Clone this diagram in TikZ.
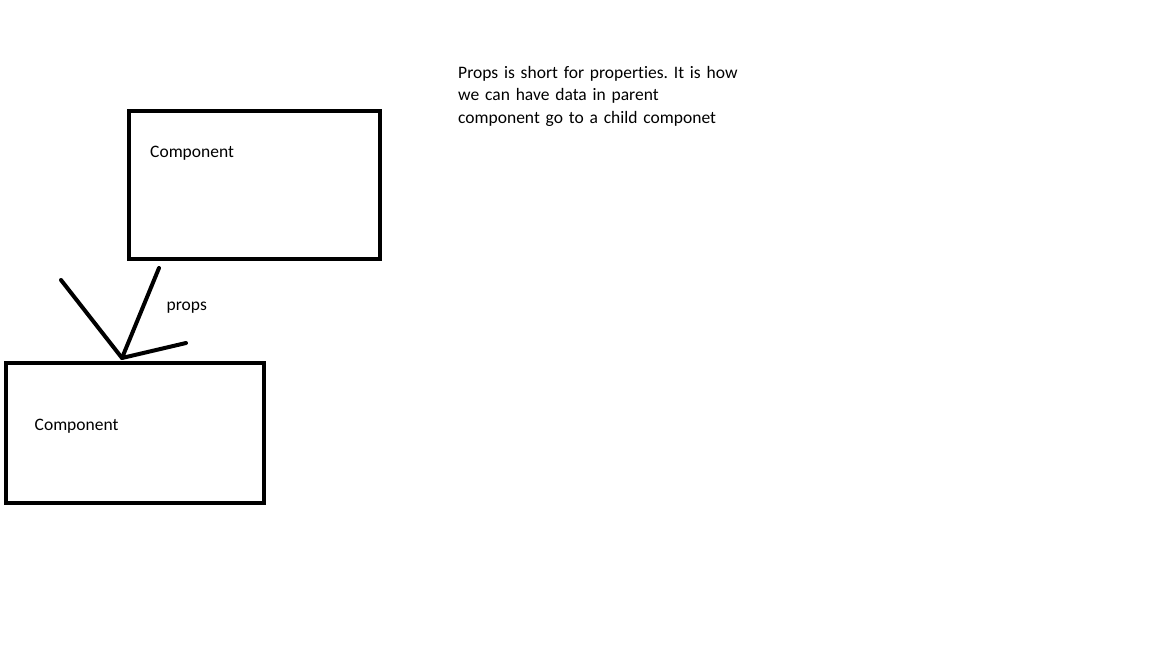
\documentclass[tikz,border=0pt]{standalone}
\usepackage{fontspec}
\setmainfont[Ligatures=NoCommon]{Carlito}
\begin{document}
\begin{tikzpicture}[x=1pt,y=-1pt,
  box/.style={draw=black,line width=4pt,rectangle,inner sep=0pt},
  lbl/.style={anchor=base west,inner sep=0pt,font=\fontsize{17.5}{22.5}\selectfont\frenchspacing},
  stroke/.style={draw=black,line width=4pt,line cap=round,line join=round}]
\useasboundingbox[fill=white] (0,0) rectangle (1152,648);
\node[box,minimum width=251pt,minimum height=148pt] (parent) at (254.5,185) {};
\node[box,minimum width=258pt,minimum height=140pt] (child) at (135,433) {};
\node[lbl] (tparent) at (150,157.5) {Component};
\node[lbl] (tchild) at (34.5,430.5) {Component};
\node[lbl] (tprops) at (166.5,310) {props};
\node[lbl,align=left,anchor=north west,text width=320pt] (note) at (458,66) {Props is short for properties. It is how\\we can have data in parent\\component go to a child componet};
\coordinate (tail) at (159,268);
\coordinate (tip) at (122,358);
\coordinate (wingl) at (61,280);
\coordinate (wingr) at (186,343);
\draw[stroke] (tail) -- (tip);
\draw[stroke] (wingl) -- (tip) -- (wingr);
\end{tikzpicture}
\end{document}
